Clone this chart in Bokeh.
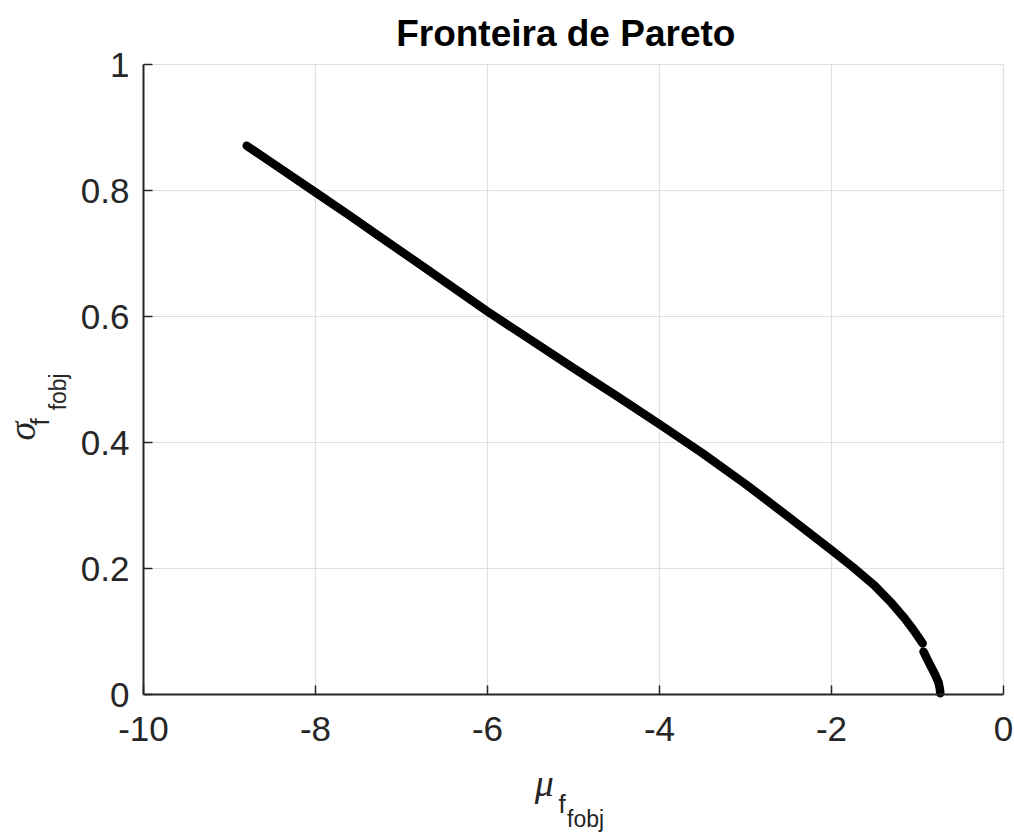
import math
from bokeh.plotting import figure
from bokeh.models import Range1d, FixedTicker, Label, LinearAxis
from bokeh.embed import file_html
from bokeh.resources import INLINE

# ---- data ----
mu_upper = [-8.80, -8.40, -8.00, -7.60, -7.20, -6.80, -6.40, -6.00, -5.50, -5.00,
            -4.50, -4.00, -3.50, -3.00, -2.50, -2.00, -1.75, -1.50, -1.30, -1.15,
            -1.05, -0.94]
sigma_upper = [0.871, 0.834, 0.797, 0.760, 0.722, 0.684, 0.646, 0.608, 0.563, 0.518,
               0.474, 0.429, 0.383, 0.334, 0.282, 0.229, 0.202, 0.173, 0.145, 0.121,
               0.103, 0.081]
mu_lower = [-0.93, -0.88, -0.80, -0.755, -0.74, -0.735]
sigma_lower = [0.068, 0.054, 0.033, 0.019, 0.009, 0.002]

x_ticks = [-10, -8, -6, -4, -2, 0]
x_tick_labels = ["-10", "-8", "-6", "-4", "-2", "0"]
y_ticks = [0, 0.2, 0.4, 0.6, 0.8, 1]
y_tick_labels = ["0", "0.2", "0.4", "0.6", "0.8", "1"]

title_text = "Fronteira de Pareto"

FONT = "Liberation Sans"
AX = "#262626"
GRID = "#dfdfdf"

# plotting box: x -10..0 -> px 143..1003, y 0..1 -> px 694..64 (frame = whole canvas)
X0, X1 = -10 - 143 / 86.0, 0 + 11 / 86.0
Y0, Y1 = -(832 - 694) / 630.0, 1 + 64 / 630.0

p = figure(width=1014, height=832, title=None,
           x_range=Range1d(X0, X1), y_range=Range1d(Y0, Y1),
           x_axis_location=None, y_axis_location=None,
           output_backend="svg", toolbar_location=None,
           min_border_left=0, min_border_right=0,
           min_border_top=0, min_border_bottom=0)
p.background_fill_color = "white"
p.border_fill_color = "white"
p.outline_line_color = None
p.xgrid.visible = False
p.ygrid.visible = False

# grid lines inside the axes box
p.segment(x0=x_ticks, y0=[y_ticks[0]] * len(x_ticks), x1=x_ticks, y1=[y_ticks[-1]] * len(x_ticks),
          line_color=GRID, line_width=1.2)
p.segment(x0=[x_ticks[0]] * len(y_ticks), y0=y_ticks, x1=[x_ticks[-1]] * len(y_ticks), y1=y_ticks,
          line_color=GRID, line_width=1.2)

xaxis = LinearAxis(fixed_location=y_ticks[0], bounds=(x_ticks[0], x_ticks[-1]),
                   ticker=FixedTicker(ticks=x_ticks))
yaxis = LinearAxis(fixed_location=x_ticks[0], bounds=(y_ticks[0], y_ticks[-1]),
                   ticker=FixedTicker(ticks=y_ticks))
xaxis.major_label_overrides = {t: l for t, l in zip(x_ticks, x_tick_labels)}
yaxis.major_label_overrides = {t: l for t, l in zip(y_ticks, y_tick_labels)}
for ax in (xaxis, yaxis):
    ax.axis_line_color = AX
    ax.axis_line_width = 2
    ax.major_tick_line_color = AX
    ax.major_tick_line_width = 1.5
    ax.major_tick_in = 9
    ax.major_tick_out = 0
    ax.minor_tick_line_color = None
    ax.major_label_text_font = FONT
    ax.major_label_text_font_size = "35px"
    ax.major_label_text_color = AX
xaxis.major_label_standoff = 22
yaxis.major_label_standoff = 14
p.add_layout(xaxis, "below")
p.add_layout(yaxis, "left")

p.line(mu_upper, sigma_upper, line_color="black", line_width=8.5, line_cap="round", line_join="round")
p.line(mu_lower, sigma_lower, line_color="black", line_width=8.5, line_cap="round", line_join="round")

# title
p.add_layout(Label(x=-5.09, y=1.049, text=title_text, text_font=FONT,
                   text_font_size="37px", text_font_style="bold", text_color="black",
                   text_align="center", text_baseline="alphabetic"))

# x label: mu_{f_{fobj}}
p.add_layout(Label(x=-5.45, y=-0.140, text="μ", text_font="Liberation Serif",
                   text_font_style="italic", text_font_size="38px", text_color=AX,
                   text_align="left", text_baseline="alphabetic"))
p.add_layout(Label(x=-5.175, y=-0.174, text="f", text_font=FONT,
                   text_font_size="26px", text_color=AX,
                   text_align="left", text_baseline="alphabetic"))
p.add_layout(Label(x=-5.075, y=-0.197, text="fobj", text_font=FONT,
                   text_font_size="23px", text_color=AX,
                   text_align="left", text_baseline="alphabetic"))

# y label: sigma_{f_{fobj}}
p.add_layout(Label(x=-11.407, y=0.403, text="σ", text_font="Liberation Serif",
                   text_font_style="italic", text_font_size="38px", text_color=AX,
                   angle=math.pi / 2, text_align="left", text_baseline="alphabetic"))
p.add_layout(Label(x=-11.209, y=0.427, text="f", text_font=FONT,
                   text_font_size="26px", text_color=AX,
                   angle=math.pi / 2, text_align="left", text_baseline="alphabetic"))
p.add_layout(Label(x=-11.0, y=0.451, text="fobj", text_font=FONT,
                   text_font_size="23px", text_color=AX,
                   angle=math.pi / 2, text_align="left", text_baseline="alphabetic"))

open("out.html", "w").write(file_html(p, INLINE))
